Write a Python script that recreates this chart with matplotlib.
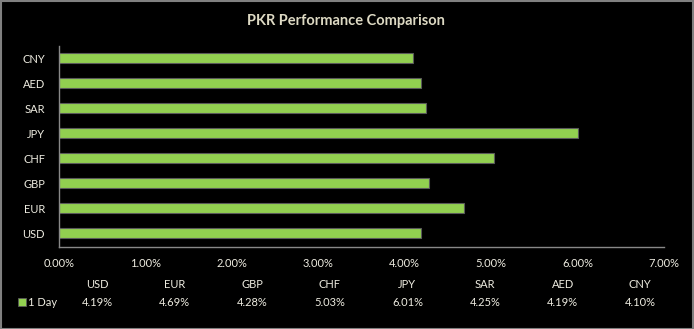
import matplotlib
matplotlib.use("Agg")
import matplotlib.pyplot as plt
from matplotlib.patches import Rectangle
import numpy as np

categories = ["USD", "EUR", "GBP", "CHF", "JPY", "SAR", "AED", "CNY"]
values = [4.19, 4.69, 4.28, 5.03, 6.01, 4.25, 4.19, 4.10]
series_name = "1 Day"
xticks = [0, 1, 2, 3, 4, 5, 6, 7]
title = "PKR Performance Comparison"

txt = "#EEECE1"
bar_col = "#92D050"
plt.rcParams['font.family'] = ['Lato', 'DejaVu Sans']

fig = plt.figure(figsize=(6.94, 3.29), dpi=100, facecolor="black")
W, H = 694, 329
ax = fig.add_axes([59 / W, 1 - 247 / H, (664 - 59) / W, (247 - 46) / H], facecolor="black")

y = np.arange(len(categories))
ax.barh(y, values, height=0.4, color=bar_col, edgecolor="#5a5a5a", linewidth=0.8)
ax.set_xlim(0, 7)
ax.set_ylim(-0.55, 7.5)
ax.set_yticks(y)
ax.set_yticklabels(categories)
ax.set_xticks(xticks)
ax.set_xticklabels([f"{t:.2f}%" for t in xticks])
ax.tick_params(colors=txt, labelsize=8, length=0)
ax.tick_params(axis="x", pad=8)
ax.tick_params(axis="y", pad=10)
for s in ["top", "right"]:
    ax.spines[s].set_visible(False)
for s in ["left", "bottom"]:
    ax.spines[s].set_color("#888888")
    ax.spines[s].set_linewidth(1)

fig.text(0.5 * (245 + 446) / W, 1 - 21 / H, title, ha="center", va="center",
         color="#DDD9C3", fontsize=10.5, fontweight="bold")

# data table below chart
for i, (c, v) in enumerate(zip(categories, values)):
    xc = 97 + i * 77.6
    fig.text(xc / W, 1 - 285 / H, c, ha="center", va="center", color=txt, fontsize=8)
    fig.text(xc / W, 1 - 302 / H, f"{v:.2f}%", ha="center", va="center", color=txt, fontsize=8)

fig.patches.append(Rectangle((18 / W, 1 - 306 / H), 8 / W, 8 / H, transform=fig.transFigure,
                             facecolor=bar_col, edgecolor="#5a5a5a", linewidth=0.6))
fig.text(28 / W, 1 - 302 / H, series_name, ha="left", va="center", color=txt, fontsize=8)

# figure border
fig.patches.append(Rectangle((0.5 / W, 0.5 / H), 1 - 1.5 / W, 1 - 1.5 / H, transform=fig.transFigure,
                             facecolor="none", edgecolor="#808080", linewidth=1.5))

fig.savefig("out.png", dpi=100, facecolor="black")
